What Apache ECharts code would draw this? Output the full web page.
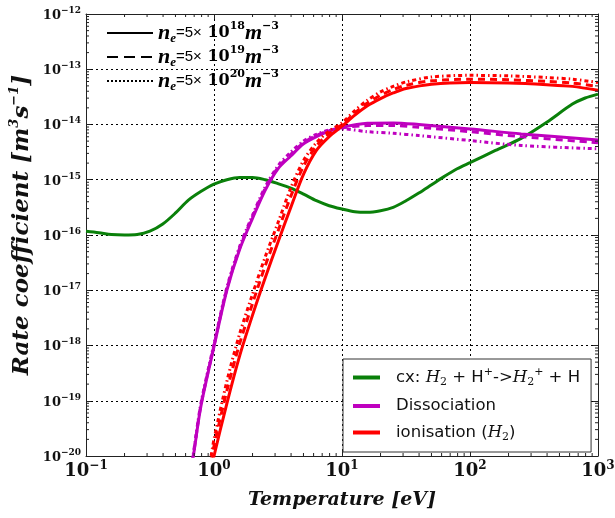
<!DOCTYPE html>
<html><head><meta charset="utf-8">
<script src="https://cdn.jsdelivr.net/npm/echarts@6/dist/echarts.min.js"></script>
<style>html,body{margin:0;padding:0;background:#fff}#c{width:615px;height:518px}</style>
</head><body><div id="c"></div>
<script>
// ---- data (Temperature in eV, rate in m^3/s) ----
const cxT = [0.1,0.126,0.158,0.2,0.251,0.316,0.398,0.501,0.631,0.794,1,1.26,1.58,2,2.51,3.16,3.98,5.01,6.31,7.94,10,12.6,15.8,20,25.1,31.6,39.8,50.1,63.1,79.4,100,158,251,398,631,794,1000];
const cxRate = [1.17e-16,1.1e-16,1.02e-16,1.0e-16,1.02e-16,1.17e-16,1.58e-16,2.51e-16,4.27e-16,6.17e-16,8.32e-16,1.0e-15,1.1e-15,1.1e-15,1.0e-15,8.51e-16,7.08e-16,5.5e-16,4.17e-16,3.39e-16,2.95e-16,2.63e-16,2.57e-16,2.75e-16,3.16e-16,4.17e-16,5.75e-16,8.13e-16,1.15e-15,1.58e-15,2.04e-15,3.39e-15,5.62e-15,1.1e-14,2.34e-14,3.02e-14,3.55e-14];

const dissT = [0.63,0.69,0.79,1,1.26,1.58,2,2.51,3.16,3.98,5.01,6.31,7.94,10,15.8,25.1,39.8,100,251,1000];
const diss_ne18 = [2.82e-21,1e-20,7.94e-20,9.55e-19,1e-17,5.37e-17,2.0e-16,6.46e-16,1.58e-15,2.69e-15,4.47e-15,6.03e-15,7.59e-15,8.91e-15,1.05e-14,1.07e-14,1.0e-14,8.32e-15,6.76e-15,5.25e-15];
const diss_ne19 = [2.95e-21,1.05e-20,8.32e-20,1e-18,1.05e-17,5.62e-17,2.14e-16,6.92e-16,1.66e-15,2.88e-15,4.68e-15,6.31e-15,7.76e-15,8.71e-15,9.55e-15,9.55e-15,8.91e-15,7.41e-15,6.03e-15,4.68e-15];
const diss_ne20 = [3.16e-21,1.12e-20,8.91e-20,1.07e-18,1.12e-17,6.03e-17,2.29e-16,7.41e-16,1.78e-15,3.16e-15,5.01e-15,6.61e-15,7.94e-15,8.32e-15,7.41e-15,6.92e-15,6.31e-15,5.13e-15,4.17e-15,3.63e-15];

const ionT = [0.95,1,1.26,1.58,2,2.51,3.16,3.98,5.01,6.31,7.94,10,12.6,15.8,20,25.1,31.6,50.1,100,200,398,631,1000];
const ion_ne18 = [5.62e-21,1e-20,8.91e-20,6.31e-19,3.55e-18,1.66e-17,7.41e-17,3.16e-16,1.26e-15,3.39e-15,6.03e-15,9.33e-15,1.48e-14,2.19e-14,2.95e-14,3.72e-14,4.47e-14,5.37e-14,5.75e-14,5.62e-14,5.25e-14,4.9e-14,4.17e-14];
const ion_ne19 = [7.94e-21,1.51e-20,1.51e-19,1.05e-18,5.75e-18,2.75e-17,1.17e-16,5.01e-16,1.78e-15,4.07e-15,6.92e-15,1.0e-14,1.62e-14,2.45e-14,3.39e-14,4.27e-14,5.13e-14,6.17e-14,6.61e-14,6.46e-14,6.03e-14,5.62e-14,4.9e-14];
const ion_ne20 = [1e-20,2.0e-20,2.24e-19,1.58e-18,8.51e-18,3.98e-17,1.66e-16,7.08e-16,2.24e-15,4.68e-15,7.59e-15,1.07e-14,1.78e-14,2.75e-14,3.89e-14,4.9e-14,5.89e-14,7.24e-14,7.76e-14,7.59e-14,7.08e-14,6.61e-14,5.75e-14];

const xTickExp = [-1,0,1,2,3];
const yTickExp = [-20,-19,-18,-17,-16,-15,-14,-13,-12];
const densityLabels = {ne18:'18', ne19:'19', ne20:'20'};

// ---- helpers ----
const pairs = (xs, ys) => xs.map((x, i) => [x, ys[i]]);
const xMinor = [], yMinor = [];
for (let d = xTickExp[0]; d < xTickExp[xTickExp.length-1]; d++) for (let m = 2; m <= 9; m++) xMinor.push(m * Math.pow(10, d));
for (let d = yTickExp[0]; d < yTickExp[yTickExp.length-1]; d++) for (let m = 2; m <= 9; m++) yMinor.push(m * Math.pow(10, d));
const XMIN = Math.pow(10, xTickExp[0]), XMAX = Math.pow(10, xTickExp[xTickExp.length-1]);
const YMIN = Math.pow(10, yTickExp[0]), YMAX = Math.pow(10, yTickExp[yTickExp.length-1]);
const expOf = v => Math.round(Math.log10(v));
const minus = s => String(s).replace('-', '\u2212');

const GREEN = '#0a800a', MAG = '#bf00bf', RED = '#ff0000', FRAME = '#222';
const serif = 'DejaVu Serif';
const iSerif = 'Liberation Serif';

function lineSeries(name, xs, ys, color, type, z) {
  return {type:'line', name, data: pairs(xs, ys), showSymbol:false, symbol:'none', clip:true, z: z,
    smooth:0.3,
    itemStyle:{color}, lineStyle:{color, width:3, type}, emphasis:{disabled:true}, silent:true};
}
function dummy(name, type) {
  return {type:'line', name, data:[], symbol:'none', itemStyle:{color:'#000'}, lineStyle:{color:'#000', width:3, type}};
}

const tickAxisCommon = {
  axisLine:{show:true, lineStyle:{color:FRAME, width:1}},
  axisTick:{show:true, inside:true, length:5, lineStyle:{color:FRAME}},
};
const nameFont = {fontFamily:serif, fontStyle:'italic', fontWeight:'bold', color:'#111'};

const option = {
  animation:false,
  backgroundColor:'#fff',
  grid:{left:86, right:17, top:14, bottom:62, containLabel:false, outerBoundsMode:'none'},
  xAxis:[{
    type:'log', logBase:10, min:XMIN, max:XMAX, splitNumber:4, position:'bottom',
    ...tickAxisCommon,
    splitLine:{show:true, lineStyle:{color:'#000', width:1, type:[2,3]}},
    axisLabel:{margin:4, showMinLabel:true, showMaxLabel:true, hideOverlap:false,
      formatter: v => '{b|10}{s|' + minus(expOf(v)) + '}',
      rich:{b:{fontFamily:serif, fontWeight:'bold', fontSize:18, lineHeight:20, color:'#111', verticalAlign:'bottom'},
            s:{fontFamily:serif, fontWeight:'bold', fontSize:12, lineHeight:12, color:'#111', verticalAlign:'top'}}},
    name:'Temperature [eV]', nameLocation:'middle', nameGap:35, nameMoveOverlap:false,
    nameTextStyle:{...nameFont, fontSize:19}
  },{
    type:'log', logBase:10, min:XMIN, max:XMAX, splitNumber:4, position:'top',
    ...tickAxisCommon, splitLine:{show:false}, axisLabel:{show:false}
  }],
  yAxis:[{
    type:'log', logBase:10, min:YMIN, max:YMAX, splitNumber:8, position:'left',
    ...tickAxisCommon,
    splitLine:{show:true, lineStyle:{color:'#000', width:1, type:[2,3]}},
    axisLabel:{margin:5, showMinLabel:true, showMaxLabel:true, hideOverlap:false,
      formatter: v => '{b|10}{s|' + minus(expOf(v)) + '}',
      rich:{b:{fontFamily:serif, fontWeight:'bold', fontSize:13, lineHeight:16, color:'#111', verticalAlign:'bottom'},
            s:{fontFamily:serif, fontWeight:'bold', fontSize:9, lineHeight:10, color:'#111', verticalAlign:'top'}}},
    name:'{it|Rate coefficient }{br|[}{it|m}{sp|3}{it|s}{sp|\u22121}{br|]}', nameLocation:'middle', nameRotate:90, nameGap:50, nameMoveOverlap:false,
    nameTextStyle:{...nameFont, fontSize:23, padding:[0,0,0,20],
      rich:{it:{...nameFont, fontSize:23, lineHeight:28},
            br:{fontFamily:serif, fontWeight:'bold', fontSize:23, lineHeight:28, color:'#111'},
            sp:{...nameFont, fontSize:13, lineHeight:13, verticalAlign:'top'}}}
  },{
    type:'log', logBase:10, min:YMIN, max:YMAX, splitNumber:8, position:'right',
    ...tickAxisCommon, splitLine:{show:false}, axisLabel:{show:false}
  }],
  legend:[{
    data:['ne18','ne19','ne20'], orient:'vertical', left:106, top:21, padding:0,
    itemWidth:46, itemHeight:10, itemGap:0, itemTextGap:3, selectedMode:false,
    itemStyle:{opacity:0},
    formatter: n => '{n|n}{sb|e}{t|=5×}{b| 10}{sp|' + densityLabels[n] + '}{n|m}{sp|\u22123}',
    textStyle:{rich:{
      n:{fontFamily:iSerif, fontStyle:'italic', fontWeight:'bold', fontSize:22, lineHeight:24, color:'#000'},
      sb:{fontFamily:iSerif, fontStyle:'italic', fontWeight:'bold', fontSize:13, lineHeight:13, verticalAlign:'bottom', color:'#000'},
      t:{fontFamily:'Liberation Sans', fontSize:15, lineHeight:18, color:'#000'},
      b:{fontFamily:serif, fontWeight:'bold', fontSize:16, lineHeight:18, color:'#000'},
      sp:{fontFamily:serif, fontWeight:'bold', fontSize:11, lineHeight:11, verticalAlign:'top', color:'#000'}
    }}
  },{
    data:[{name:'cx', icon:'rect'},{name:'Dissociation', icon:'rect'},{name:'ionisation', icon:'rect'}],
    orient:'vertical', left:343, top:359, padding:[8,11,9,10], itemWidth:27, itemHeight:4, itemGap:9.5, itemTextGap:5,
    selectedMode:false, backgroundColor:'#fff', borderColor:'#333', borderWidth:1, borderRadius:0,
    formatter: n => '{g|}' + (n === 'cx' ? '{r|cx: }{i|H}{sb|2}{r| + H}{sp|+}{r|->}{i|H}{sb|2}{sp|+}{r| + H}'
                  : n === 'ionisation' ? '{r|ionisation (}{i|H}{sb|2}{r|)}' : '{r|Dissociation}'),
    textStyle:{rich:{
      g:{width:11, fontSize:10, lineHeight:10},
      r:{fontFamily:'DejaVu Sans', fontSize:16.5, lineHeight:21, color:'#111'},
      i:{fontFamily:serif, fontStyle:'italic', fontSize:16.5, lineHeight:21, color:'#111'},
      sb:{fontFamily:serif, fontSize:11, lineHeight:11, verticalAlign:'bottom', color:'#111'},
      sp:{fontFamily:'DejaVu Sans', fontSize:11, lineHeight:11, verticalAlign:'top', color:'#111'}
    }}
  }],
  series:[
    dummy('ne18','solid'), dummy('ne19',[11,6]), dummy('ne20',[2,2]),
    lineSeries('cx', cxT, cxRate, GREEN, 'solid', 3),
    lineSeries('Dissociation', dissT, diss_ne18, MAG, 'solid', 4),
    lineSeries('Dissociation ne19', dissT, diss_ne19, MAG, [7,5], 4),
    lineSeries('Dissociation ne20', dissT, diss_ne20, MAG, [4,3,1.5,3], 4),
    lineSeries('ionisation', ionT, ion_ne18, RED, 'solid', 5),
    lineSeries('ionisation ne19', ionT, ion_ne19, RED, [7,5], 5),
    lineSeries('ionisation ne20', ionT, ion_ne20, RED, [4,3,1.5,3], 5),
    {type:'custom', name:'xminor', silent:true, clip:false, z:6, data:xMinor.map(v => [v, YMIN*10]),
      renderItem:(p, api) => { const v = api.value(0); const b = api.coord([v, YMIN]); const t = api.coord([v, YMAX]);
        return {type:'group', children:[
          {type:'line', shape:{x1:b[0], y1:b[1], x2:b[0], y2:b[1]-3}, style:{stroke:FRAME, lineWidth:1}},
          {type:'line', shape:{x1:t[0], y1:t[1], x2:t[0], y2:t[1]+3}, style:{stroke:FRAME, lineWidth:1}}]}; }},
    {type:'custom', name:'yminor', silent:true, clip:false, z:6, data:yMinor.map(v => [XMIN*10, v]),
      renderItem:(p, api) => { const v = api.value(1); const l = api.coord([XMIN, v]); const r = api.coord([XMAX, v]);
        return {type:'group', children:[
          {type:'line', shape:{x1:l[0], y1:l[1], x2:l[0]+3, y2:l[1]}, style:{stroke:FRAME, lineWidth:1}},
          {type:'line', shape:{x1:r[0], y1:r[1], x2:r[0]-3, y2:r[1]}, style:{stroke:FRAME, lineWidth:1}}]}; }}
  ]
};
echarts.init(document.getElementById('c'), null, {renderer:'canvas'}).setOption(option);
</script></body></html>
